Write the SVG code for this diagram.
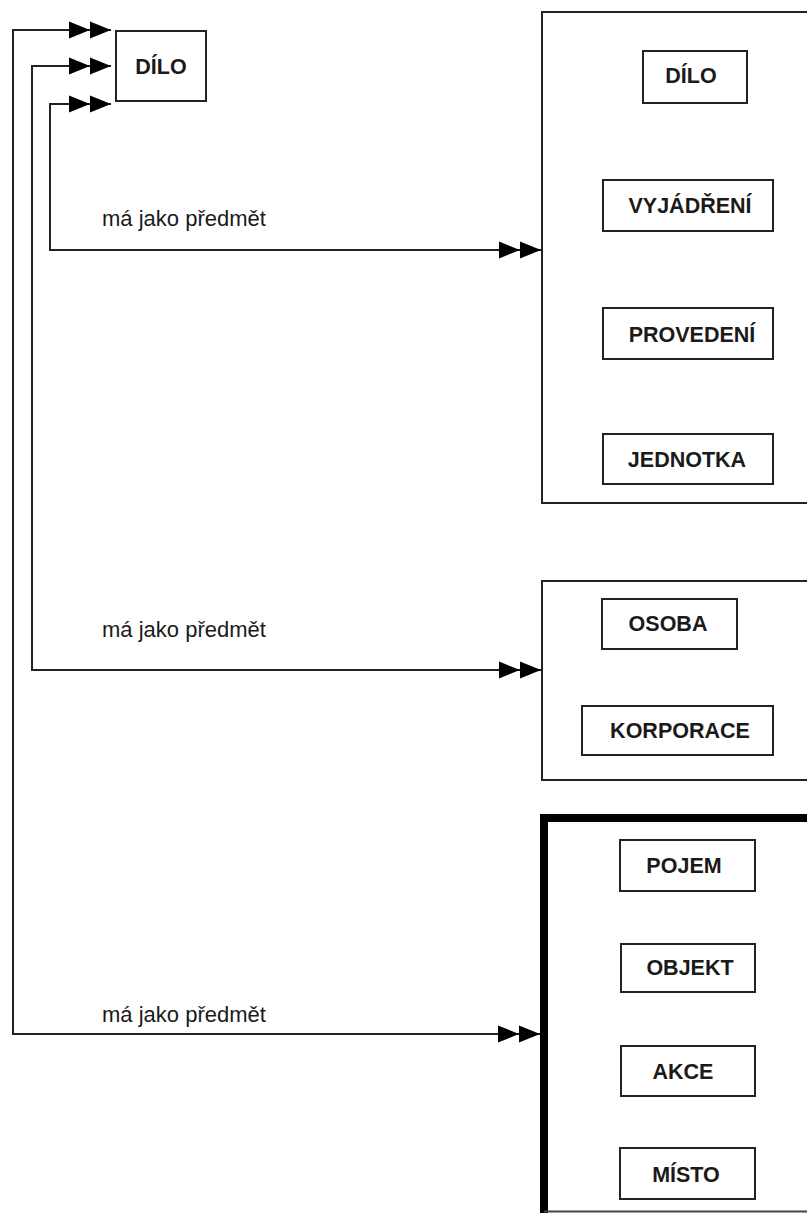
<svg xmlns="http://www.w3.org/2000/svg" width="807" height="1213" viewBox="0 0 807 1213">
<defs>
<marker id="dbl" markerUnits="userSpaceOnUse" markerWidth="44" markerHeight="20" viewBox="0 -10 44 20" refX="43" refY="0" orient="auto-start-reverse">
<path d="M1,-8.5 L22,0 L1,8.5 Z M22,-8.5 L43,0 L22,8.5 Z" fill="#000"/>
</marker>
<style>
.box{fill:#fff;stroke:#222;stroke-width:2}
.cont{fill:none;stroke:#222;stroke-width:2}
.lbl{font-family:"Liberation Sans",Arial,sans-serif;font-size:21.5px;font-weight:bold;fill:#1a1a1a;text-anchor:middle}
.rel{font-family:"Liberation Sans",Arial,sans-serif;font-size:22px;fill:#1a1a1a}
.conn{fill:none;stroke:#222;stroke-width:2}
</style>
</defs>
<rect width="807" height="1213" fill="#fff"/>

<g id="containers">
<path id="group1" class="cont" d="M810,12 H542 V503 H810"/>
<path id="group2" class="cont" d="M810,581 H542 V780 H810"/>
<path id="group3" fill="none" stroke="#000" stroke-width="8" d="M544,1213 V818 H810"/>
<line x1="544" y1="1211.5" x2="807" y2="1211.5" stroke="#444" stroke-width="2"/>
</g>

<g id="node-dilo-src"><rect class="box" x="116" y="31" width="90" height="70"/><text class="lbl" x="161" y="74">DÍLO</text></g>
<g id="node-dilo"><rect class="box" x="643" y="51" width="104" height="52"/><text class="lbl" x="691" y="83">DÍLO</text></g>
<g id="node-vyjadreni"><rect class="box" x="603" y="180" width="170" height="51"/><text class="lbl" x="690" y="213">VYJÁDŘENÍ</text></g>
<g id="node-provedeni"><rect class="box" x="603" y="308" width="170" height="51"/><text class="lbl" x="692" y="342">PROVEDENÍ</text></g>
<g id="node-jednotka"><rect class="box" x="603" y="434" width="170" height="50"/><text class="lbl" x="687" y="467">JEDNOTKA</text></g>
<g id="node-osoba"><rect class="box" x="602" y="599" width="135" height="50"/><text class="lbl" x="668" y="631">OSOBA</text></g>
<g id="node-korporace"><rect class="box" x="582" y="706" width="191" height="49"/><text class="lbl" x="680" y="738">KORPORACE</text></g>
<g id="node-pojem"><rect class="box" x="620" y="840" width="135" height="51"/><text class="lbl" x="684" y="873">POJEM</text></g>
<g id="node-objekt"><rect class="box" x="621" y="944" width="134" height="48"/><text class="lbl" x="690" y="975">OBJEKT</text></g>
<g id="node-akce"><rect class="box" x="621" y="1046" width="134" height="50"/><text class="lbl" x="683" y="1079">AKCE</text></g>
<g id="node-misto"><rect class="box" x="620" y="1148" width="135" height="51"/><text class="lbl" x="686" y="1182">MÍSTO</text></g>

<g id="connectors">
<path class="conn" d="M540,1034 H13 V30 H111" marker-start="url(#dbl)" marker-end="url(#dbl)"/>
<path class="conn" d="M541,670 H32 V66 H111" marker-start="url(#dbl)" marker-end="url(#dbl)"/>
<path class="conn" d="M541,250 H50 V104 H111" marker-start="url(#dbl)" marker-end="url(#dbl)"/>
<text class="rel" x="102" y="226">má jako předmět</text>
<text class="rel" x="102" y="637">má jako předmět</text>
<text class="rel" x="102" y="1022">má jako předmět</text>
</g>
</svg>
